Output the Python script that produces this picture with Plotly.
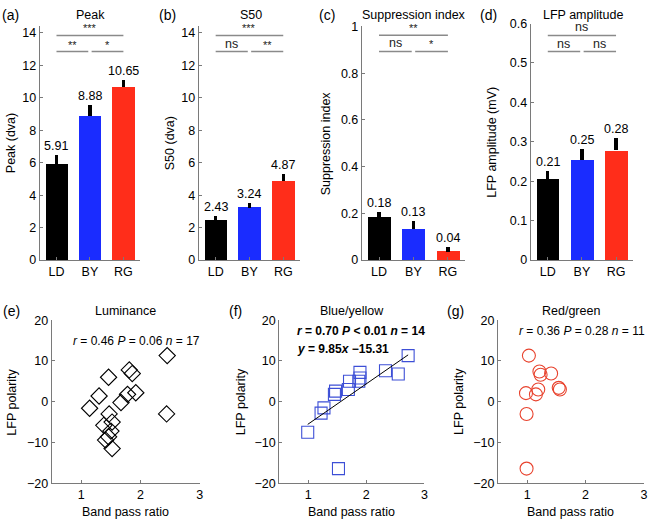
import plotly.graph_objects as go

W, H = 653, 526
FONT = "Arial, Liberation Sans, sans-serif"

# ---------------- data ----------------
categories = ["LD", "BY", "RG"]
bar_colors = ["#000000", "#1a2cff", "#ff2d1a"]

peak_vals = [5.91, 8.88, 10.65]
peak_err = [0.56, 0.66, 0.46]
s50_vals = [2.43, 3.24, 4.87]
s50_err = [0.30, 0.28, 0.44]
si_vals = [0.183, 0.132, 0.036]
si_err = [0.021, 0.035, 0.020]
lfp_vals = [0.206, 0.254, 0.278]
lfp_err = [0.021, 0.029, 0.032]

# significance labels: (top bracket, left lower, right lower) and bracket levels
peak_sig = ["***", "**", "*"]
s50_sig = ["***", "ns", "**"]
si_sig = ["**", "ns", "*"]
lfp_sig = ["ns", "ns", "ns"]
peak_lv = [13.85, 12.85]
s50_lv = [13.85, 12.85]
si_lv = [0.962, 0.893]
lfp_lv = [0.570, 0.529]

lum_x = [2.45, 2.44, 1.46, 1.81, 1.86, 1.30, 1.14, 1.78, 1.92, 1.67, 1.47, 1.38, 1.52, 1.50, 1.41, 1.52, 1.46]
lum_y = [11.3, -3.0, 6.0, 7.8, 6.9, 1.4, -1.6, 1.8, 2.2, -0.2, -3.0, -5.8, -5.0, -7.2, -9.4, -11.5, -8.6]
by_x = [2.72, 2.33, 2.55, 1.89, 1.89, 1.87, 1.71, 1.69, 1.47, 1.45, 1.27, 1.22, 0.99, 1.52]
by_y = [11.3, 7.6, 6.8, 7.2, 5.8, 5.0, 5.0, 3.0, 2.6, 1.8, -1.5, -2.8, -7.5, -16.4]
rg_x = [1.03, 1.21, 1.23, 1.41, 1.54, 1.56, 1.19, 1.15, 0.98, 0.99, 0.99]
rg_y = [11.3, 7.4, 6.6, 6.9, 3.4, 3.0, 3.0, 1.8, 2.1, -3.0, -16.4]

lum_stats = {"r": "0.46", "P": "= 0.06", "n": 17}
by_stats = {"r": "0.70", "P": "&lt; 0.01", "n": 14}
rg_stats = {"r": "0.36", "P": "= 0.28", "n": 11}
by_slope, by_intercept = 9.85, -15.31

# ---------------- helpers ----------------
def xd(a, b):
    return [a / W, b / W]

def yd(top, bottom):
    return [1 - bottom / H, 1 - top / H]

def px(x):
    return x / W

def py(y):
    return 1 - y / H

def note(x, y, text, size=12.5, xanchor="center", yanchor="middle", angle=0, color="black"):
    return dict(x=x, y=y, xref="paper", yref="paper", text=text, showarrow=False,
                xanchor=xanchor, yanchor=yanchor, textangle=angle,
                font=dict(size=size, family=FONT, color=color))

AX = "#7a7a7a"
fig = go.Figure()
annotations = []
shapes = []

top_panels = [
    dict(vals=peak_vals, err=peak_err, sig=peak_sig, lv=peak_lv, rng=[0, 14.4],
         tick=[0, 2, 4, 6, 8, 10, 12, 14], dom=xd(40, 141), ydom=yd(20, 260),
         title="Peak", ytitle="Peak (dva)", letter="(a)", tx=91, ytx=11, lx=11),
    dict(vals=s50_vals, err=s50_err, sig=s50_sig, lv=s50_lv, rng=[0, 14.4],
         tick=[0, 2, 4, 6, 8, 10, 12, 14], dom=xd(200, 302), ydom=yd(20, 260),
         title="S50", ytitle="S50 (dva)", letter="(b)", tx=253, ytx=171, lx=169),
    dict(vals=si_vals, err=si_err, sig=si_sig, lv=si_lv, rng=[0, 1],
         tick=[0, 0.2, 0.4, 0.6, 0.8, 1], dom=xd(364, 468), ydom=yd(20, 260),
         title="Suppression index", ytitle="Suppression index", letter="(c)", tx=417, ytx=328, lx=329),
    dict(vals=lfp_vals, err=lfp_err, sig=lfp_sig, lv=lfp_lv, rng=[0, 0.6],
         tick=[0, 0.1, 0.2, 0.3, 0.4, 0.5, 0.6], dom=xd(534, 637), ydom=yd(17, 260),
         title="LFP amplitude", ytitle="LFP amplitude (mV)", letter="(d)", tx=587, ytx=495, lx=492),
]

xs = [1, 2, 3]
for i, p in enumerate(top_panels):
    k = i + 1
    xa = "x" if k == 1 else f"x{k}"
    ya = "y" if k == 1 else f"y{k}"
    fig.add_trace(go.Bar(
        x=xs, y=p["vals"], width=0.67, marker=dict(color=bar_colors, line=dict(width=0)),
        error_y=dict(type="data", array=p["err"], arrayminus=[0, 0, 0], symmetric=False,
                     color="black", thickness=3.2, width=0),
        xaxis=xa, yaxis=ya, showlegend=False, hoverinfo="skip"))
    fig.layout[f"xaxis{'' if k == 1 else k}"] = dict(
        domain=p["dom"], anchor=ya, range=[0.5, 3.5], tickvals=xs, ticktext=categories,
        showline=True, linecolor=AX, linewidth=1, ticks="inside", ticklen=3, tickcolor=AX,
        showgrid=False, zeroline=False, tickfont=dict(size=12.5, color="black", family=FONT))
    fig.layout[f"yaxis{'' if k == 1 else k}"] = dict(
        domain=p["ydom"], anchor=xa, range=p["rng"], tickvals=p["tick"],
        showline=True, linecolor=AX, linewidth=1, ticks="inside", ticklen=3, tickcolor=AX,
        showgrid=False, zeroline=False, tickfont=dict(size=12.5, color="black", family=FONT))
    # value labels
    for j in range(3):
        annotations.append(dict(x=xs[j], y=p["vals"][j] + p["err"][j], xref=xa, yref=ya,
                                text=f"{p['vals'][j]:.2f}", showarrow=False, xanchor="center",
                                yanchor="bottom", yshift=0,
                                font=dict(size=12.5, family=FONT, color="black")))
    # significance brackets
    segs = [(1, 3, p["lv"][0], p["sig"][0]), (1, 1.95, p["lv"][1], p["sig"][1]),
            (2.05, 3, p["lv"][1], p["sig"][2])]
    for (a, b, lvl, lab) in segs:
        shapes.append(dict(type="line", xref=xa, yref=ya, x0=a, x1=b, y0=lvl, y1=lvl,
                           line=dict(color="#8a8a8a", width=1.5)))
        annotations.append(dict(x=(a + b) / 2, y=lvl, xref=xa, yref=ya, text=lab, showarrow=False,
                                xanchor="center", yanchor="bottom", yshift=-1,
                                font=dict(size=11 if lab != "ns" else 12.5, family=FONT, color="#222")))
    annotations.append(note(px(p["tx"]), py(8), p["title"]))
    annotations.append(note(px(p["lx"]), py(8), p["letter"], size=14))
    annotations.append(note(px(p["ytx"]), (p["ydom"][0] + p["ydom"][1]) / 2, p["ytitle"], angle=-90))

bottom_panels = [
    dict(x=lum_x, y=lum_y, sym="diamond-open", size=12.5, color="#000000", dom=xd(52, 201),
         title="Luminance", letter="(e)", lx=12, ytx=12, st=lum_stats, bold=False),
    dict(x=by_x, y=by_y, sym="square-open", size=12, color="#3d4fd6", dom=xd(281, 427),
         title="Blue/yellow", letter="(f)", lx=237, ytx=242, st=by_stats, bold=True),
    dict(x=rg_x, y=rg_y, sym="circle-open", size=13, color="#e8432e", dom=xd(501, 648),
         title="Red/green", letter="(g)", lx=458, ytx=462, st=rg_stats, bold=False),
]
ydom_b = yd(321.7, 489.3)
for i, p in enumerate(bottom_panels):
    k = i + 5
    xa, ya = f"x{k}", f"y{k}"
    fig.add_trace(go.Scatter(x=p["x"], y=p["y"], mode="markers", xaxis=xa, yaxis=ya,
                             marker=dict(symbol=p["sym"], size=p["size"], color=p["color"],
                                         line=dict(width=1.1, color=p["color"])),
                             showlegend=False, hoverinfo="skip"))
    fig.layout[f"xaxis{k}"] = dict(
        domain=p["dom"], anchor=ya, range=[0.5, 3], tickvals=[1, 2, 3],
        showline=True, linecolor=AX, linewidth=1, ticks="inside", ticklen=3, tickcolor=AX,
        showgrid=False, zeroline=False, tickfont=dict(size=12.5, color="black", family=FONT))
    fig.layout[f"yaxis{k}"] = dict(
        domain=ydom_b, anchor=xa, range=[-20, 20], tickvals=[-20, -10, 0, 10, 20],
        showline=True, linecolor=AX, linewidth=1, ticks="inside", ticklen=3, tickcolor=AX,
        showgrid=False, zeroline=False, tickfont=dict(size=12.5, color="black", family=FONT))
    c = (p["dom"][0] + p["dom"][1]) / 2
    annotations.append(note(c, py(312), p["title"]))
    annotations.append(note(px(p["lx"]), py(312), p["letter"], size=14))
    annotations.append(note(c, py(519), "Band pass ratio"))
    annotations.append(note(px(p["ytx"]), (ydom_b[0] + ydom_b[1]) / 2, "LFP polarity", angle=-90))
    st = p["st"]
    stat_txt = f"<i>r</i> = {st['r']} <i>P</i> {st['P']} <i>n</i> = {st['n']}"
    if p["bold"]:
        annotations.append(note(px(297), py(333), f"<b>{stat_txt}</b>", size=12, xanchor="left"))
        eq = f"<b><i>y</i> = {by_slope:.2f}<i>x</i> \u2212{abs(by_intercept):.2f}</b>"
        annotations.append(note(px(297), py(351), eq, size=12, xanchor="left"))
    else:
        ypos = 343 if i == 0 else 333
        xr = 203 if i == 0 else 651
        annotations.append(note(px(xr), py(ypos), stat_txt, size=12, xanchor="right"))

# regression line for blue/yellow
fx = [min(by_x), max(by_x)]
fig.add_trace(go.Scatter(x=fx, y=[by_slope * v + by_intercept for v in fx], mode="lines",
                         line=dict(color="black", width=1), xaxis="x6", yaxis="y6",
                         showlegend=False, hoverinfo="skip"))

fig.update_layout(width=W, height=H, margin=dict(l=0, r=0, t=0, b=0),
                  paper_bgcolor="white", plot_bgcolor="white",
                  font=dict(family=FONT, color="black"),
                  annotations=annotations, shapes=shapes, bargap=0)
fig.write_html("out.html", post_script="document.body.style.margin='0px';",
               config={"displayModeBar": False})
